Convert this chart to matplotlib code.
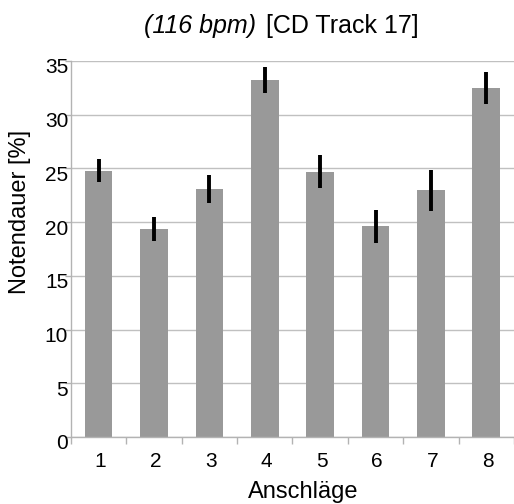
import numpy as np
import matplotlib.pyplot as plt
import matplotlib.transforms as mtransforms

plt.rcParams['font.family'] = ['Liberation Sans', 'DejaVu Sans']

# values
anschlaege = ['1', '2', '3', '4', '5', '6', '7', '8']
notendauer = [24.8, 19.35, 23.05, 33.2, 24.7, 19.6, 22.95, 32.45]
fehler = [1.1, 1.1, 1.3, 1.2, 1.55, 1.55, 1.9, 1.5]

x = np.arange(1, len(anschlaege) + 1)

fig = plt.figure(figsize=(5.14, 5.04), dpi=100)
ax = fig.add_axes([0.138, 0.133, 0.862, 0.746])

ax.bar(x, notendauer, width=0.5, color='#999999', zorder=2)
ax.errorbar(x, notendauer, yerr=fehler, fmt='none', ecolor='black',
            elinewidth=2.8, capsize=0, zorder=3)

ax.set_xlim(0.5, 8.5)
ax.set_ylim(0, 35)
ax.set_yticks(np.arange(0, 36, 5))
ax.set_xticks(x)
ax.set_xticklabels(anschlaege)
ax.set_xticks(np.arange(0.5, 8.6, 1), minor=True)
ax.tick_params(axis='x', which='major', length=0, pad=11, labelsize=15)
ax.tick_params(axis='x', which='minor', length=5, color='#b3b3b3', width=1)
ax.tick_params(axis='y', length=4, color='#b3b3b3', width=1, labelsize=15, pad=-2)

# labels in the reference sit a little lower / right of their ticks
dy = mtransforms.ScaledTranslation(0, -5 / 100, fig.dpi_scale_trans)
for lab in ax.get_yticklabels():
    lab.set_transform(lab.get_transform() + dy)
dx = mtransforms.ScaledTranslation(1.5 / 100, 0, fig.dpi_scale_trans)
for lab in ax.get_xticklabels():
    lab.set_transform(lab.get_transform() + dx)

ax.grid(axis='y', color='#c0c0c0', linewidth=1, zorder=0)
ax.set_axisbelow(True)
for s in ['top', 'right']:
    ax.spines[s].set_visible(False)
for s in ['left', 'bottom']:
    ax.spines[s].set_color('#b3b3b3')
    ax.spines[s].set_linewidth(1)

ax.set_xlabel('Anschläge', fontsize=17, va='baseline')
ax.xaxis.set_label_coords(303 / 514, 6 / 504, transform=fig.transFigure)
ax.set_ylabel('Notendauer [%]', fontsize=17, va='center', ha='center')
ax.yaxis.set_label_coords(20 / 514, 1 - 212 / 504, transform=fig.transFigure)

fig.text(256 / 514, 1 - 33 / 504, '(116 bpm)', style='italic', fontsize=18,
         ha='right', va='baseline')
fig.text(266 / 514, 1 - 33 / 504, '[CD Track 17]', fontsize=18,
         ha='left', va='baseline')

fig.savefig('out.png', dpi=100)
